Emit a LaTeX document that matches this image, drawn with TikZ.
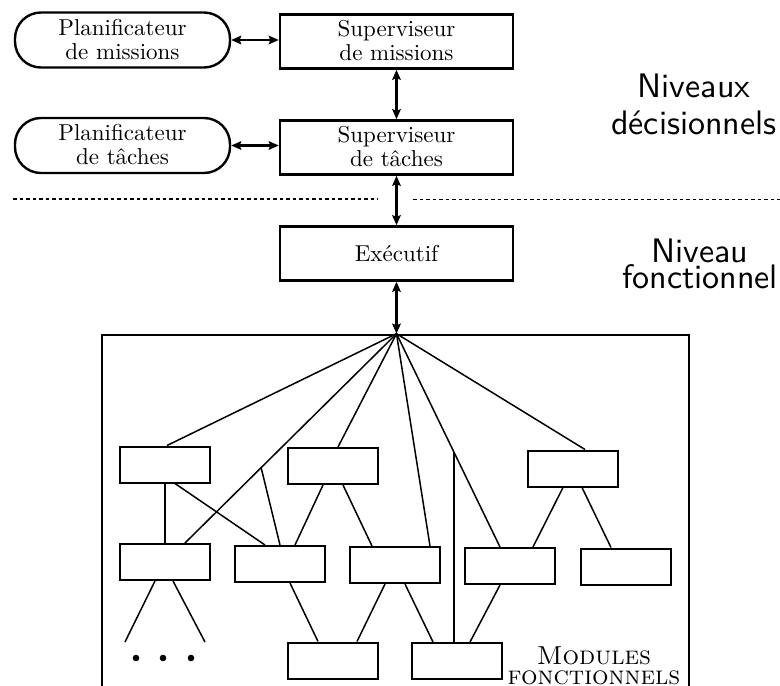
\documentclass[tikz,border=0pt]{standalone}
\usepackage{graphicx}
\usetikzlibrary{arrows.meta,calc}
% two-line box captions, set at 10pt and enlarged
\newcommand{\boxtext}[1]{\scalebox{2.3}{\fontsize{10}{10.3}\selectfont
  \begin{tabular}{@{}c@{}}\rule{0pt}{9.4pt}#1\end{tabular}}}
\begin{document}
\begin{tikzpicture}[x=1pt,y=-1pt,
  planbox/.style={draw, line width=2.4pt, rounded corners=26pt, minimum width=215pt,
    minimum height=55pt, inner sep=0pt},
  supbox/.style={draw, line width=2.5pt, minimum width=233pt, minimum height=54pt,
    inner sep=0pt},
  module/.style={draw, line width=2pt, minimum width=90pt, minimum height=36pt, inner sep=0pt},
  frame/.style={draw, line width=2.6pt, minimum width=587pt, minimum height=353pt, inner sep=0pt},
  link/.style={line width=1.5pt},
  biarrow/.style={line width=2.4pt,
    {Stealth[length=10pt,width=8.5pt,inset=1.5pt]}-{Stealth[length=10pt,width=8.5pt,inset=1.5pt]}},
  levelline/.style={line width=1.4pt, dash pattern=on 3.5pt off 3pt},
  levelfont/.style={align=center, inner sep=0pt, scale=3.4, transform shape},
  modfont/.style={align=center, inner sep=0pt, scale=2.6, transform shape,
    font=\fontsize{10}{7.8}\selectfont\scshape}]
\useasboundingbox (0,0) rectangle (780,686);

% decision levels
\node[planbox] (pm) at (122.5,40) {\boxtext{Planificateur\\de missions}};
\node[supbox]  (sm) at (396.5,41.5) {\boxtext{Superviseur\\de missions}};
\node[planbox] (pt) at (122.5,145.5) {\boxtext{Planificateur\\de tâches}};
\node[supbox]  (st) at (396.5,147.5) {\boxtext{Superviseur\\de tâches}};
\node[supbox]  (ex) at (396.5,253.5) {\scalebox{2.3}{Exécutif}};

% functional modules frame
\node[frame] (fm) at (395.5,511.5) {};
\coordinate (hub) at (ex.south |- fm.north);

\draw[biarrow] (pm.east) -- (pm.east -| sm.west);
\draw[biarrow] (pt.east) -- (pt.east -| st.west);
\draw[biarrow] (sm.south) -- (st.north);
\draw[biarrow] (st.south) -- (ex.north);
\draw[biarrow] (ex.south) -- (hub);

% boundary between levels
\coordinate (l1) at (13,199);
\coordinate (l2) at (378,199);
\coordinate (r1) at (413,199.5);
\coordinate (r2) at (780,199.5);
\draw[levelline] (l1) -- (l2);
\draw[levelline] (r1) -- (r2);

\node[levelfont, font=\fontsize{10}{10.9}\selectfont\sffamily] (n1) at (694,104)
  {Niveaux\\décisionnels};
\node[levelfont, font=\fontsize{10}{7.6}\selectfont\sffamily] (n2) at (700,264)
  {Niveau\\fonctionnel};

% modules
\node[module] (m1) at (165,464.5) {};
\node[module] (m2) at (333,466) {};
\node[module] (m7) at (573,468.5) {};
\node[module] (m3) at (164.5,562) {};
\node[module] (m4) at (280,564) {};
\node[module] (m5) at (395,565) {};
\node[module] (m8) at (509.5,566) {};
\node[module] (m9) at (625.5,566.5) {};
\node[module] (m6) at (332.5,660.5) {};
\node[module] (m10) at (456.5,661) {};

% links from the executive
\draw[link] (hub) -- ([xshift=2pt]m1.north);
\draw[link] (hub) -- coordinate[pos=0.64] (br1) ([xshift=20.5pt]m3.north);
\draw[link] (hub) -- ([xshift=5pt]m2.north);
\draw[link] (hub) -- ([xshift=35pt]m5.north);
\draw[link] (hub) -- coordinate[pos=0.5535] (br2) ([xshift=-9.5pt]m8.north);
\draw[link] (hub) -- ([xshift=12pt]m7.north);

% links between modules
\draw[link] (m1.south) -- (m1.south |- m3.north);
\draw[link] ([xshift=10pt]m1.south) -- ([xshift=-15pt]m4.north);
\draw[link] (br1) -- (m4.north);
\draw[link] ([xshift=-10pt]m2.south) -- ([xshift=15pt]m4.north);
\draw[link] ([xshift=10pt]m2.south) -- ([xshift=-23pt]m5.north);
\draw[link] ([xshift=10pt]m4.south) -- ([xshift=-14.5pt]m6.north);
\draw[link] ([xshift=-10pt]m5.south) -- ([xshift=24.5pt]m6.north);
\draw[link] ([xshift=10pt]m5.south) -- ([xshift=-23.5pt]m10.north);
\draw[link] (br2) -- (br2 |- m10.north);
\draw[link] ([xshift=-9.5pt]m8.south) -- ([xshift=13.5pt]m10.north);
\draw[link] ([xshift=-10pt]m7.south) -- ([xshift=23.5pt]m8.north);
\draw[link] ([xshift=9pt]m7.south) -- ([xshift=-14.5pt]m9.north);

% open subtree
\coordinate (d1) at (125,642);
\coordinate (d2) at (205,642);
\draw[link] ([xshift=-9.5pt]m3.south) -- (d1);
\draw[link] ([xshift=8.5pt]m3.south) -- (d2);
\fill (136,658) circle (3.3pt) (163,658) circle (3.3pt) (191,658) circle (3.3pt);

\node[modfont] (t1) at (594,666) {Modules\\fonctionnels};
\end{tikzpicture}
\end{document}
